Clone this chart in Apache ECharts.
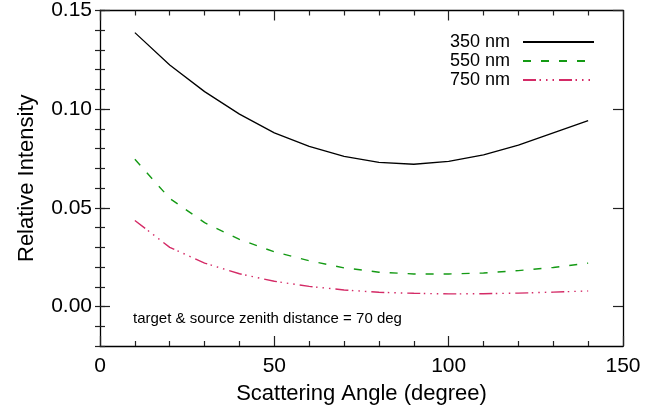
<!DOCTYPE html>
<html><head><meta charset="utf-8">
<script src="https://cdn.jsdelivr.net/npm/echarts@6/dist/echarts.min.js"></script>
<style>html,body{margin:0;padding:0;background:#fff}#c{width:666px;height:410px}</style>
</head><body><div id="c"></div>
<script>
const angles = [10,20,30,40,50,60,70,80,90,100,110,120,130,140];
const i350 = [0.1388,0.1224,0.1089,0.0975,0.0880,0.0811,0.0761,0.0730,0.0721,0.0735,0.0768,0.0818,0.0880,0.0942];
const i550 = [0.0746,0.0548,0.0425,0.0340,0.0277,0.0232,0.0196,0.0174,0.0165,0.0165,0.0170,0.0182,0.0198,0.0220];
const i750 = [0.0436,0.0300,0.0220,0.0166,0.0128,0.0102,0.0084,0.0072,0.0067,0.0064,0.0065,0.0068,0.0073,0.0079];
const seriesNames = ['350 nm','550 nm','750 nm'];
const xTicks = [0,50,100,150];
const yTicks = [0,0.05,0.10,0.15];
const note = 'target & source zenith distance = 70 deg';

const FONT = 'Liberation Sans, Arial, Helvetica, sans-serif';
const chart = echarts.init(document.getElementById('c'));
const pair = a => angles.map((x,i)=>[x,a[i]]);
const lineCol = '#222';
function yAxisMajor(pos, showLabel){
  return {type:'value', position:pos, min:-0.02, max:0.15,
    axisLine:{show:true, onZero:false, lineStyle:{color:'#000', width:1.3}},
    axisTick:{show:true, inside:true, length:10, customValues:yTicks, lineStyle:{color:lineCol, width:1.2}},
    axisLabel:{show:showLabel, customValues:yTicks, formatter:v=>v.toFixed(2), fontFamily:FONT, fontSize:21, color:'#000', margin:8},
    splitLine:{show:false},
    name: showLabel ? 'Relative Intensity' : '', nameLocation:'middle', nameGap:62,
    nameTextStyle:{fontFamily:FONT, fontSize:22, color:'#000'}};
}
function yAxisMinor(pos){
  return {type:'value', position:pos, min:-0.02, max:0.15, interval:0.01,
    axisLine:{show:false}, axisLabel:{show:false}, splitLine:{show:false},
    axisTick:{show:true, inside:true, length:5, lineStyle:{color:lineCol, width:1.2}}};
}
function xAxis(pos, showLabel){
  return {type:'value', position:pos, min:0, max:150, interval:50,
    axisLine:{show:true, onZero:false, lineStyle:{color:'#000', width:1.3}},
    axisTick:{show:true, inside:true, length:10, lineStyle:{color:lineCol, width:1.2}},
    minorTick:{show:true, splitNumber:5, length:5, lineStyle:{color:lineCol, width:1.2}},
    axisLabel:{show:showLabel, fontFamily:FONT, fontSize:21, color:'#000', margin:10},
    splitLine:{show:false},
    name: showLabel ? 'Scattering Angle (degree)' : '', nameLocation:'middle', nameGap:37,
    nameTextStyle:{fontFamily:FONT, fontSize:22, color:'#000'}};
}
chart.setOption({
  animation:false,
  backgroundColor:'#fff',
  grid:{left:100, right:43, top:8, bottom:63},
  xAxis:[xAxis('bottom', true), xAxis('top', false)],
  yAxis:[yAxisMajor('left', true), yAxisMinor('left'), yAxisMajor('right', false), yAxisMinor('right')],
  legend:{orient:'vertical', right:66, top:28, align:'right', itemWidth:71, itemHeight:14, itemGap:1,
    itemStyle:{opacity:0},
    textStyle:{fontFamily:FONT, fontSize:18, color:'#000', padding:[0,8,0,0]},
    data:seriesNames},
  series:[
    {name:seriesNames[0], type:'line', data:pair(i350), symbol:'none', lineStyle:{color:'#000', width:1.3}, itemStyle:{color:'#000'}},
    {name:seriesNames[1], type:'line', data:pair(i550), symbol:'none', lineStyle:{color:'#149a14', width:1.4, type:[8,10]}, itemStyle:{color:'#149a14'}},
    {name:seriesNames[2], type:'line', data:pair(i750), symbol:'none', lineStyle:{color:'#d42a66', width:1.4, type:[13,3.5,1.5,5,1.5,5,1.5,5]}, itemStyle:{color:'#d42a66'}}
  ],
  graphic:[{type:'text', left:133, top:311, style:{text:note, fontFamily:FONT, fontSize:15, fill:'#000'}}]
});
</script></body></html>
